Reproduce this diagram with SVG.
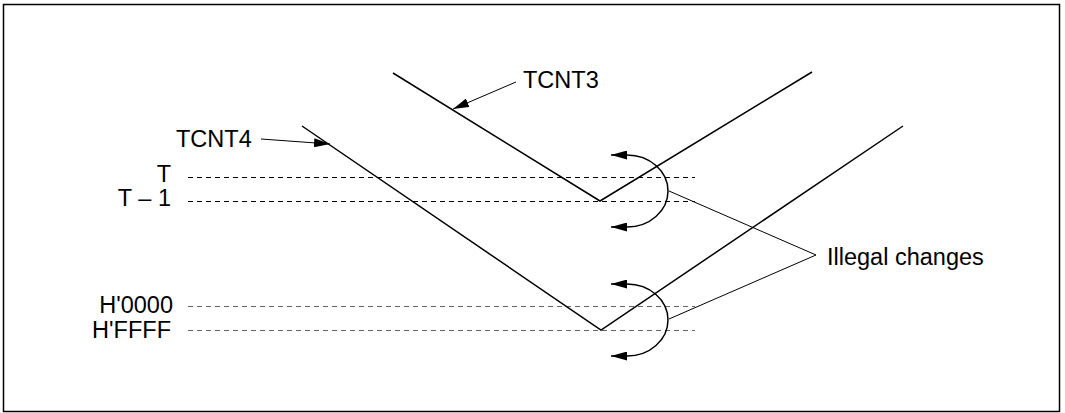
<svg xmlns="http://www.w3.org/2000/svg" width="1065" height="413" viewBox="0 0 1065 413">
  <style>
    .lbl { font-family: "Liberation Sans", Arial, sans-serif; font-size: 23.5px; fill: #000; }
    .end { text-anchor: end; }
    .main { fill: none; stroke: #000; stroke-width: 1.5; }
    .thin { fill: none; stroke: #000; stroke-width: 1; }
    .dash { fill: none; stroke: #000; stroke-width: 1; stroke-dasharray: 5 4; }
    .dash2 { fill: none; stroke: #666; stroke-width: 1; stroke-dasharray: 5 4; }
  </style>
  <defs>
    <marker id="ah" markerWidth="17" markerHeight="9" refX="16" refY="4.5" orient="auto-start-reverse" markerUnits="userSpaceOnUse">
      <path d="M0,0 L16,4.5 L0,9 Z" fill="#000"/>
    </marker>
  </defs>
  <rect x="3.5" y="4.5" width="1056" height="407" fill="#fff" stroke="#000" stroke-width="1.5"/>

  <g id="levels">
    <line class="dash" x1="188" y1="177.5" x2="695" y2="177.5"/>
    <line class="dash" x1="188" y1="201.5" x2="695" y2="201.5"/>
    <line class="dash2" x1="188" y1="306.5" x2="695" y2="306.5"/>
    <line class="dash2" x1="188" y1="330.5" x2="695" y2="330.5"/>
    <text class="lbl end" x="171" y="182">T</text>
    <text class="lbl end" x="171" y="206">T – 1</text>
    <text class="lbl end" x="173" y="313">H'0000</text>
    <text class="lbl end" x="171" y="338">H'FFFF</text>
  </g>

  <g id="tcnt3">
    <polyline class="main" points="393,73 600,201 812,72"/>
    <text class="lbl" x="523" y="88">TCNT3</text>
  </g>

  <g id="tcnt4">
    <polyline class="main" points="302,126 601,330 903,126"/>
    <text class="lbl" x="176" y="147">TCNT4</text>
  </g>

  <g id="illegal-upper">
    <path class="main" d="M611,155 L627,155 A41,36 0 0 1 627,227 L611,227" marker-start="url(#ah)" marker-end="url(#ah)"/>
  </g>
  <g id="illegal-lower">
    <path class="main" d="M611,284 L627,284 A41,36 0 0 1 627,356 L611,356" marker-start="url(#ah)" marker-end="url(#ah)"/>
  </g>
  <g id="illegal-label">
    <text class="lbl" x="827" y="265">Illegal changes</text>
  </g>

  <g id="connectors">
    <line class="thin" x1="516" y1="82" x2="453" y2="109" marker-end="url(#ah)"/>
    <line class="thin" x1="261" y1="139" x2="330" y2="144" marker-end="url(#ah)"/>
    <polyline class="thin" points="669,191 816,255 669,319"/>
  </g>
</svg>
